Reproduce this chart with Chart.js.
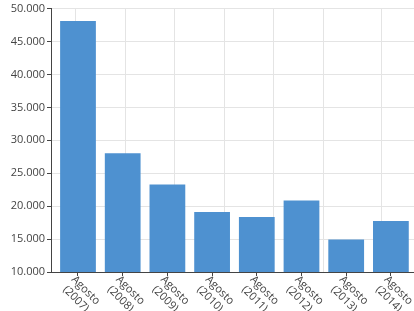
<!DOCTYPE html>
<html lang="es">
<head>
  <meta charset="UTF-8">
  <title>Agosto</title>
  <script src="https://cdn.jsdelivr.net/npm/chart.js"></script>
  <style>
    body { margin: 0; background: #fff; }
    #wrap { width: 414px; height: 311px; }
  </style>
</head>
<body>
<div id="wrap"><canvas id="chart" width="414" height="311"></canvas></div>
<script>
const months = ['Agosto', 'Agosto', 'Agosto', 'Agosto', 'Agosto', 'Agosto', 'Agosto', 'Agosto'];
const years = ['2007', '2008', '2009', '2010', '2011', '2012', '2013', '2014'];
const values = [48100, 28050, 23300, 19100, 18350, 20850, 14950, 17750];
const yTicks = [10000, 15000, 20000, 25000, 30000, 35000, 40000, 45000, 50000];

const textColor = '#444';
const gridColor = '#e4e4e4';
const fontFam = '"Open Sans", sans-serif';

// rotated two-line labels under each bar
const xLabels = {
  id: 'xLabels',
  afterDraw(chart) {
    const ctx = chart.ctx;
    const sx = chart.scales.x;
    const y0 = chart.chartArea.bottom;
    ctx.save();
    ctx.fillStyle = textColor;
    ctx.font = '11px ' + fontFam;
    ctx.textAlign = 'left';
    ctx.textBaseline = 'top';
    years.forEach((yr, i) => {
      const x = sx.getPixelForValue(i);
      ctx.save();
      ctx.translate(x - 1, y0 + 2);
      ctx.rotate(Math.PI / 4);
      ctx.fillText(months[i], 0, 0);
      ctx.fillText('(' + yr + ')', 1, 13);
      ctx.restore();
    });
    ctx.restore();
  }
};

new Chart(document.getElementById('chart'), {
  type: 'bar',
  data: {
    datasets: [{
      data: values.map((v, i) => ({ x: i, y: v })),
      backgroundColor: '#4e91d0',
      borderWidth: 0,
      barPercentage: 0.8,
      categoryPercentage: 1
    }]
  },
  options: {
    responsive: false,
    animation: false,
    layout: { padding: { top: 5, right: 0, left: 0, bottom: 0 } },
    plugins: { legend: { display: false }, tooltip: { enabled: false } },
    scales: {
      x: {
        type: 'linear',
        position: 'bottom',
        offset: false,
        min: -0.604,
        max: 7.517,
        afterFit: s => { s.height = 39; },
        ticks: { stepSize: 1, includeBounds: false, callback: () => '' },
        grid: { drawOnChartArea: false, drawTicks: true, tickLength: 4, color: textColor, offset: false },
        border: { color: textColor, width: 1 }
      },
      xg: {
        type: 'linear',
        position: 'top',
        offset: false,
        min: 0,
        max: 7.33,
        afterFit: s => { s.height = 0; },
        ticks: { display: false, stepSize: 1 },
        grid: { color: gridColor, drawTicks: false },
        border: { display: false }
      },
      y: {
        min: yTicks[0],
        max: yTicks[yTicks.length - 1],
        afterFit: s => { s.width = 51; },
        afterBuildTicks: s => { s.ticks = yTicks.map(v => ({ value: v })); },
        ticks: {
          color: textColor,
          padding: 2,
          font: { family: fontFam, size: 11 },
          callback: v => v.toLocaleString('de-DE')
        },
        grid: { color: gridColor, tickColor: textColor, tickLength: 4 },
        border: { color: textColor, width: 1 }
      }
    }
  },
  plugins: [xLabels]
});
</script>
</body>
</html>
